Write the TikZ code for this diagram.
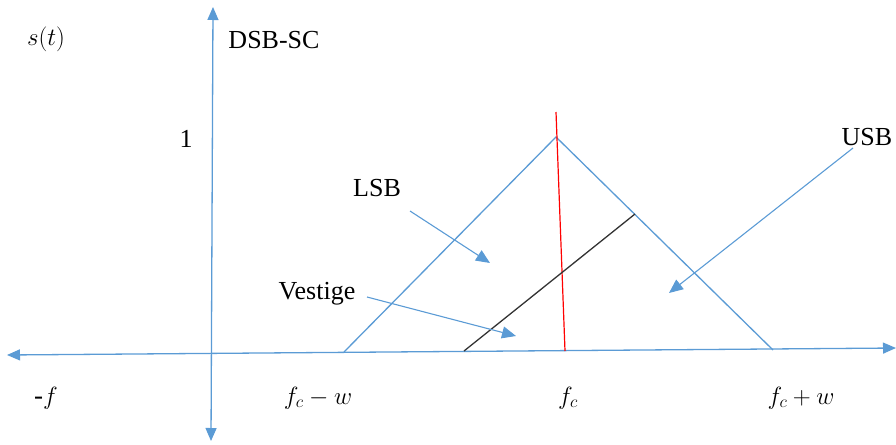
\documentclass[tikz,border=0pt]{standalone}
\usepackage{fontspec}
\setmainfont{Liberation Serif}
\usetikzlibrary{arrows.meta}
\definecolor{axblue}{RGB}{91,155,213}
\tikzset{
  bl/.style={draw=axblue, line width=1.3pt},
  tip/.style={-{Triangle[length=14pt,width=12pt]}},
  tips/.style={{Triangle[length=13pt,width=11pt]}-{Triangle[length=13pt,width=11pt]}},
  lbl/.style={inner sep=0pt, font=\fontsize{26}{31}\selectfont},
  mlbl/.style={inner sep=0pt, font=\fontsize{27}{32}\selectfont},
}
\begin{document}
\begin{tikzpicture}[x=1pt,y=-1pt]
\useasboundingbox (0,0) rectangle (896,444);
% axes
\coordinate (xl) at (7,355);
\coordinate (xr) at (896,348);
\coordinate (yt) at (213,7);
\coordinate (yb) at (211,441);
\draw[bl,tips] (xl) -- (xr);
\draw[bl,tips] (yb) -- (yt);
% triangle
\coordinate (tl) at (344,352);
\coordinate (ap) at (556,137);
\coordinate (tr) at (773,350);
\draw[bl] (tl) -- (ap) -- (tr);
% red carrier line
\coordinate (rt) at (556,112);
\coordinate (rb) at (565,351);
\draw[red, line width=1.2pt] (rt) -- (rb);
% vestige line
\coordinate (vb) at (464,351);
\coordinate (vt) at (635,214);
\draw[black!80, line width=1.3pt] (vb) -- (vt);
% labels
\node[mlbl] (st) at (46,39) {$s(t)$};
\node[lbl] (dsb) at (274,40) {DSB-SC};
\node[lbl] (one) at (186,139) {1};
\node[lbl] (lsb) at (377,188) {LSB};
\node[lbl] (usb) at (867,137) {USB};
\node[lbl] (ves) at (317,294) {Vestige};
\node[mlbl] (mf) at (46,398) {-$f$};
\node[mlbl] (fcw) at (318,398) {$f_c - w$};
\node[mlbl] (fc) at (568,398) {$f_c$};
\node[mlbl] (fcpw) at (801,398) {$f_c + w$};
% pointer arrows
\coordinate (lsbs) at (410,211);
\coordinate (lsbe) at (490,263);
\coordinate (vess) at (367,297);
\coordinate (vese) at (516,336);
\coordinate (usbs) at (853,148);
\coordinate (usbe) at (669,293);
\draw[bl,line width=1.1pt,tip] (lsbs) -- (lsbe);
\draw[bl,line width=1.1pt,tip] (vess) -- (vese);
\draw[bl,line width=1.1pt,tip] (usbs) -- (usbe);
\end{tikzpicture}
\end{document}
